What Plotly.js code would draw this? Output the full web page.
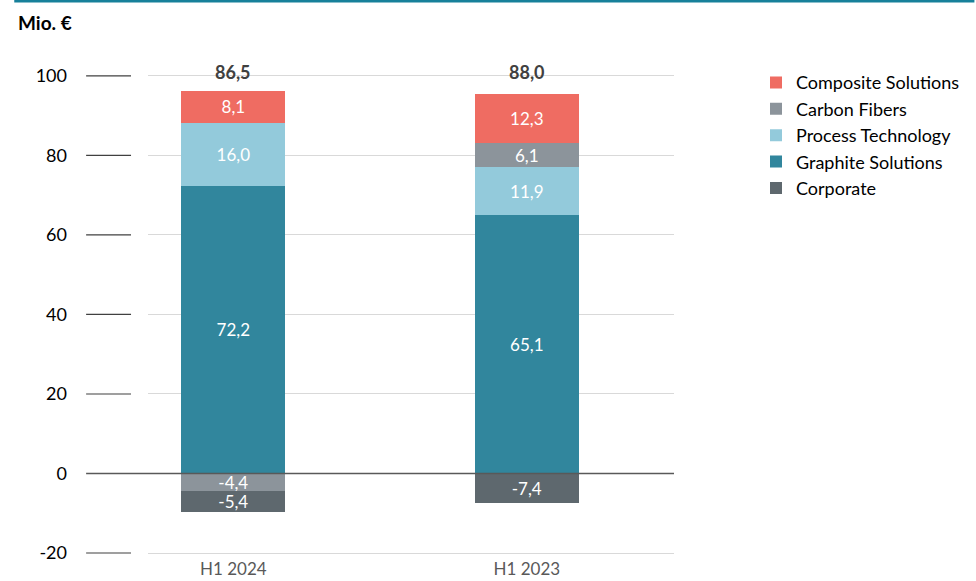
<!DOCTYPE html>
<html>
<head>
<meta charset="utf-8">
<script src="https://cdn.plot.ly/plotly-3.0.1.min.js"></script>
<style>html,body{margin:0;padding:0;background:#fff;}#chart{width:976px;height:581px;}</style>
</head>
<body>
<div id="chart"></div>
<script>
const categories = ["H1 2024", "H1 2023"];
const graphite = [72.2, 65.1];
const process = [16.0, 11.9];
const carbon = [-4.4, 6.1];
const composite = [8.1, 12.3];
const corporate = [-5.4, -7.4];
const totals = [86.5, 88.0];
const yTicks = [-20, 0, 20, 40, 60, 80, 100];

const fmt = v => v.toFixed(1).replace('.', ',');
const FONT = 'Lato, "Open Sans", sans-serif';

function barTrace(name, vals, color, rank) {
  return {
    type: 'bar', name: name, x: categories, y: vals,
    marker: {color: color, line: {width: 0}},
    width: 0.354,
    text: vals.map(fmt), textposition: 'inside', insidetextanchor: 'middle',
    textfont: {color: '#ffffff', size: 17, family: FONT},
    constraintext: 'none', cliponaxis: false,
    legendrank: rank, hoverinfo: 'skip'
  };
}

const data = [
  barTrace('Graphite Solutions', graphite, '#31869D', 4),
  barTrace('Process Technology', process, '#93CADB', 3),
  barTrace('Carbon Fibers', carbon, '#8C949B', 2),
  barTrace('Composite Solutions', composite, '#EF6C62', 1),
  barTrace('Corporate', corporate, '#5E686E', 5)
];

const L = 148, R = 675, T = 59.8, B = 557.3;
const W = R - L, H = B - T;
const px = x => (x - L) / W;
const py = y => (B - y) / H;

const shapes = [];
yTicks.forEach(v => {
  if (v === 0) {
    shapes.push({type: 'line', xref: 'paper', yref: 'y', x0: px(86), x1: 1, y0: 0, y1: 0,
      line: {color: '#595959', width: 1.5}, layer: 'above'});
  } else {
    shapes.push({type: 'line', xref: 'paper', yref: 'y', x0: px(86), x1: px(131), y0: v, y1: v,
      line: {color: '#404040', width: 1.2}});
  }
});
shapes.push({type: 'line', xref: 'paper', yref: 'paper', x0: px(14), x1: px(976), y0: py(1), y1: py(1),
  line: {color: '#17809A', width: 2.5}});

const annotations = categories.map((c, i) => ({
  x: c, y: 100, xref: 'x', yref: 'y', text: '<b>' + fmt(totals[i]) + '</b>',
  showarrow: false, yanchor: 'middle', yshift: 4,
  font: {size: 18, color: '#404040', family: FONT}
}));
annotations.push({
  xref: 'paper', yref: 'paper', x: px(16), y: py(22), xanchor: 'left', yanchor: 'middle',
  text: '<b>Mio. €</b>', showarrow: false, font: {size: 19, color: '#000000', family: FONT}
});

const layout = {
  width: 976, height: 581,
  margin: {l: L, r: 976 - R, t: T, b: 581 - B, pad: 0},
  paper_bgcolor: '#ffffff', plot_bgcolor: '#ffffff',
  barmode: 'relative', bargap: 0,
  font: {family: FONT, color: '#000000'},
  showlegend: true,
  legend: {x: px(756), y: py(64), xanchor: 'left', yanchor: 'top',
    font: {size: 18, color: '#000000', family: FONT}, tracegroupgap: 0,
    itemclick: false, bgcolor: 'rgba(0,0,0,0)'},
  xaxis: {type: 'category', range: [-0.2908, 1.5017], showgrid: false, zeroline: false,
    showline: false, ticks: '', tickfont: {size: 17, color: '#595959', family: FONT},
    automargin: false, fixedrange: true},
  yaxis: {range: [-21, 104], tickvals: yTicks, ticktext: yTicks.map(String),
    showgrid: true, gridcolor: '#D9D9D9', gridwidth: 1, zeroline: false, showline: false,
    ticks: '', ticklabelstandoff: 80, tickfont: {size: 18, color: '#000000', family: FONT},
    automargin: false, fixedrange: true},
  shapes: shapes, annotations: annotations
};

Plotly.newPlot('chart', data, layout, {displayModeBar: false, staticPlot: true});
</script>
</body>
</html>
